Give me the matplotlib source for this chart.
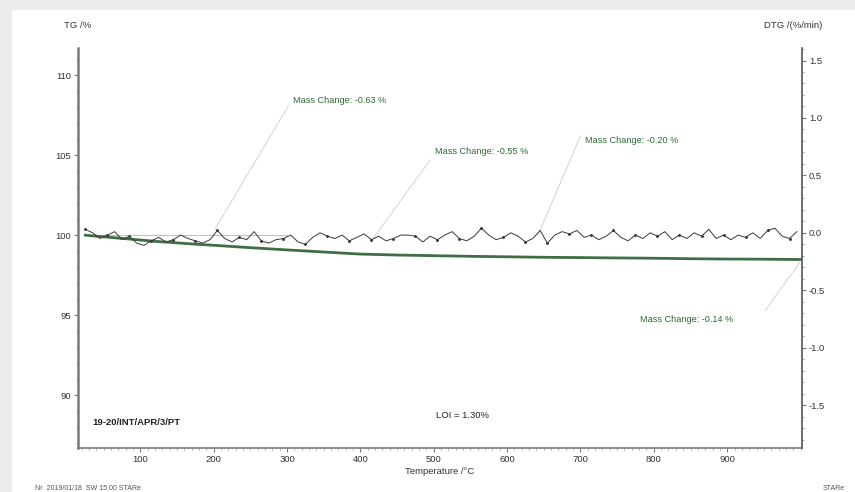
import matplotlib
matplotlib.use("Agg")
import matplotlib.pyplot as plt
from matplotlib.ticker import MultipleLocator
from matplotlib.patches import Rectangle

plt.rcParams["font.family"] = ["Liberation Sans", "DejaVu Sans"]

# --- data ---------------------------------------------------------------
tg_temp = [25, 50, 75, 100, 125, 150, 175, 200, 250, 300, 350, 400, 450, 500,
           550, 600, 650, 700, 750, 800, 850, 900, 950, 1000]
tg_mass = [100.00, 99.90, 99.80, 99.70, 99.60, 99.52, 99.44, 99.37, 99.22,
           99.08, 98.95, 98.82, 98.76, 98.72, 98.68, 98.65, 98.62, 98.60,
           98.58, 98.56, 98.53, 98.51, 98.50, 98.48]

dtg_temp = list(range(25, 1000, 10))
dtg_rate = [0.03, 0.00, -0.05, -0.02, 0.01, -0.06, -0.03, -0.09, -0.11, -0.07,
            -0.04, -0.08, -0.06, -0.02, -0.05, -0.07, -0.09, -0.06, 0.02, -0.05,
            -0.08, -0.04, -0.06, 0.01, -0.07, -0.09, -0.06, -0.05, -0.02, -0.08,
            -0.10, -0.04, 0.00, -0.03, -0.05, -0.02, -0.07, -0.04, -0.01, -0.06,
            -0.03, -0.07, -0.05, -0.02, -0.02, -0.03, -0.08, -0.03, -0.06, -0.02,
            0.01, -0.05, -0.07, -0.03, 0.04, -0.02, -0.06, -0.04, 0.00, -0.03,
            -0.08, -0.05, 0.02, -0.09, -0.02, 0.01, -0.01, 0.02, -0.04, -0.02,
            -0.06, -0.03, 0.02, -0.04, -0.07, -0.02, -0.05, 0.00, -0.03, 0.01,
            -0.06, -0.02, -0.05, 0.00, -0.03, 0.03, -0.05, -0.02, -0.06, -0.02,
            -0.04, 0.00, -0.05, 0.02, 0.04, -0.03, -0.05, 0.01]

step_labels = ["Mass Change: -0.63 %", "Mass Change: -0.55 %",
               "Mass Change: -0.20 %", "Mass Change: -0.14 %"]
step_text_xy = [(308, 108.4), (502, 105.2), (706, 105.9), (781, 94.7)]
step_line_from = [(302, 108.1), (495, 104.7), (700, 106.2), (952, 95.3)]
step_line_to = [(202, 100.4), (416, 99.7), (642, 100.0), (999, 98.3)]

x_ticks = [100, 200, 300, 400, 500, 600, 700, 800, 900]
tg_ticks = [90, 95, 100, 105, 110]
dtg_ticks = [-1.5, -1.0, -0.5, 0.0, 0.5, 1.0, 1.5]

# --- figure -------------------------------------------------------------
fig = plt.figure(figsize=(8.55, 4.92), dpi=100)
fig.patch.set_facecolor("#ececec")
fig.add_artist(Rectangle((12 / 855, 0), 1, 1 - 10 / 492,
                         transform=fig.transFigure, facecolor="white",
                         edgecolor="none", zorder=-10))

ax = fig.add_axes([78 / 855, 1 - 448 / 492, (802 - 78) / 855, (448 - 48) / 492])
ax.set_facecolor("none")
ax2 = ax.twinx()

ax.set_xlim(15, 1002)
ax.set_ylim(86.7, 111.7)
ax2.set_ylim(-1.874, 1.609)

spine_col = "#7a7a7a"
for a in (ax, ax2):
    a.spines["top"].set_visible(False)
ax.spines["right"].set_visible(False)
ax.spines["left"].set_color(spine_col)
ax.spines["left"].set_linewidth(1.8)
ax.spines["bottom"].set_color(spine_col)
ax.spines["bottom"].set_linewidth(1.2)
ax2.spines["left"].set_visible(False)
ax2.spines["bottom"].set_visible(False)
ax2.spines["right"].set_color("#555555")
ax2.spines["right"].set_linewidth(1.2)

ax.set_xticks(x_ticks)
ax.xaxis.set_minor_locator(MultipleLocator(10))
ax.set_yticks(tg_ticks)
ax.yaxis.set_minor_locator(MultipleLocator(1))
ax2.set_yticks(dtg_ticks)
ax2.set_yticklabels([f"{v:.1f}" for v in dtg_ticks])
ax2.yaxis.set_minor_locator(MultipleLocator(0.1))

for a in (ax, ax2):
    a.tick_params(which="major", length=3, width=0.8, color=spine_col,
                  labelsize=6.8, labelcolor="#333333", pad=2)
    a.tick_params(which="minor", length=1.5, width=0.6, color="#999999")

# TG step baseline and curve
ax.plot([25, 300], [100.0, 100.0], color="#a8d5a8", lw=0.8, zorder=2)
ax.plot(tg_temp, tg_mass, color="#3f6e45", lw=2.0, zorder=3)

# DTG trace
ax2.plot(dtg_temp, dtg_rate, color="#3a3a3a", lw=0.7, marker=".",
         markersize=2.2, markevery=3, zorder=4)

# mass-change annotations with leader lines
for label, txy, p0, p1 in zip(step_labels, step_text_xy,
                              step_line_from, step_line_to):
    ax.plot([p0[0], p1[0]], [p0[1], p1[1]], color="#d8d8d8", lw=0.8, zorder=1)
    ax.text(txy[0], txy[1], label, color="#2f6b35", fontsize=6.6,
            ha="left", va="center", zorder=5)

ax.text(34, 88.3, "19-20/INT/APR/3/PT", fontsize=6.8, fontweight="bold",
        color="#222222", ha="left", va="center")
ax.text(503, 88.75, "LOI = 1.30%", fontsize=6.8, color="#222222",
        ha="left", va="center")

fig.text(78 / 855, 1 - 25 / 492, "TG /%", fontsize=6.8, color="#333333",
         ha="center", va="center")
fig.text(793 / 855, 1 - 25 / 492, "DTG /(%/min)", fontsize=6.8,
         color="#333333", ha="center", va="center")
fig.text(440 / 855, 1 - 471 / 492, "Temperature /°C", fontsize=6.8,
         color="#333333", ha="center", va="center")
fig.text(35 / 855, 1 - 489 / 492, "Nr  2019/01/18  SW 15.00 STARe", fontsize=5,
         color="#555555", ha="left", va="center")
fig.text(845 / 855, 1 - 489 / 492, "STARe", fontsize=5, color="#555555",
         ha="right", va="center")

fig.savefig("out.png", dpi=100)
